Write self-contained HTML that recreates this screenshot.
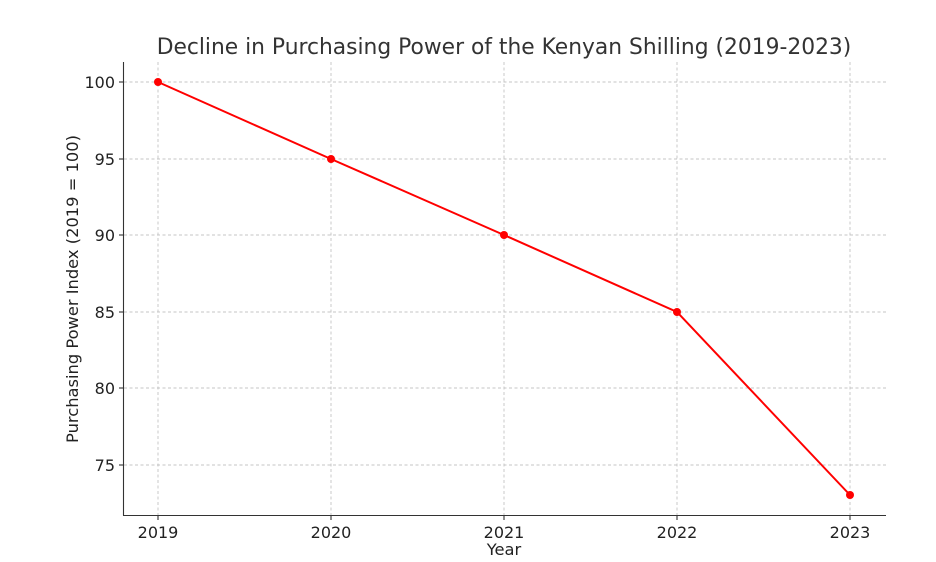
<!DOCTYPE html>
<html><head><meta charset="utf-8"><style>body{margin:0;background:#fff}svg{display:block}</style></head>
<body>
<svg width="936" height="562" xmlns="http://www.w3.org/2000/svg" font-family="DejaVu Sans, Liberation Sans, sans-serif">
<rect width="936" height="562" fill="#fff"/>
<g stroke="#c4c4c4" stroke-width="0.9" stroke-dasharray="3,2.5">
<line x1="158" y1="62" x2="158" y2="515"/><line x1="331" y1="62" x2="331" y2="515"/><line x1="504" y1="62" x2="504" y2="515"/><line x1="677" y1="62" x2="677" y2="515"/><line x1="850" y1="62" x2="850" y2="515"/>
<line x1="124" y1="82" x2="886" y2="82"/><line x1="124" y1="159" x2="886" y2="159"/><line x1="124" y1="235" x2="886" y2="235"/><line x1="124" y1="312" x2="886" y2="312"/><line x1="124" y1="388" x2="886" y2="388"/><line x1="124" y1="465" x2="886" y2="465"/>
</g>
<g stroke="#333" stroke-width="1.1">
<line x1="123.5" y1="62" x2="123.5" y2="515.5"/><line x1="123" y1="515.5" x2="886" y2="515.5"/>
<line x1="158" y1="515" x2="158" y2="520"/><line x1="331" y1="515" x2="331" y2="520"/><line x1="504" y1="515" x2="504" y2="520"/><line x1="677" y1="515" x2="677" y2="520"/><line x1="850" y1="515" x2="850" y2="520"/>
<line x1="119" y1="82" x2="124" y2="82"/><line x1="119" y1="159" x2="124" y2="159"/><line x1="119" y1="235" x2="124" y2="235"/><line x1="119" y1="312" x2="124" y2="312"/><line x1="119" y1="388" x2="124" y2="388"/><line x1="119" y1="465" x2="124" y2="465"/>
</g>
<polyline points="158,82 331,159 504,235 677,312 850,495" fill="none" stroke="#ff0000" stroke-width="2"/>
<g fill="#ff0000"><circle cx="158" cy="82" r="4"/><circle cx="331" cy="159" r="4"/><circle cx="504" cy="235" r="4"/><circle cx="677" cy="312" r="4"/><circle cx="850" cy="495" r="4"/></g>
<g font-size="16" fill="#222" text-anchor="middle">
<text x="158" y="538">2019</text><text x="331" y="538">2020</text><text x="504" y="538">2021</text><text x="677" y="538">2022</text><text x="850" y="538">2023</text>
</g>
<g font-size="16" fill="#222" text-anchor="end">
<text x="115" y="88">100</text><text x="115" y="165">95</text><text x="115" y="241">90</text><text x="115" y="318">85</text><text x="115" y="394">80</text><text x="115" y="471">75</text>
</g>
<text x="504" y="555" font-size="16.3" fill="#222" text-anchor="middle">Year</text>
<text transform="translate(78,289) rotate(-90)" font-size="16.3" fill="#222" text-anchor="middle">Purchasing Power Index (2019 = 100)</text>
<text x="504" y="54" font-size="21.8" fill="#333" text-anchor="middle">Decline in Purchasing Power of the Kenyan Shilling (2019-2023)</text>
</svg>
</body></html>
